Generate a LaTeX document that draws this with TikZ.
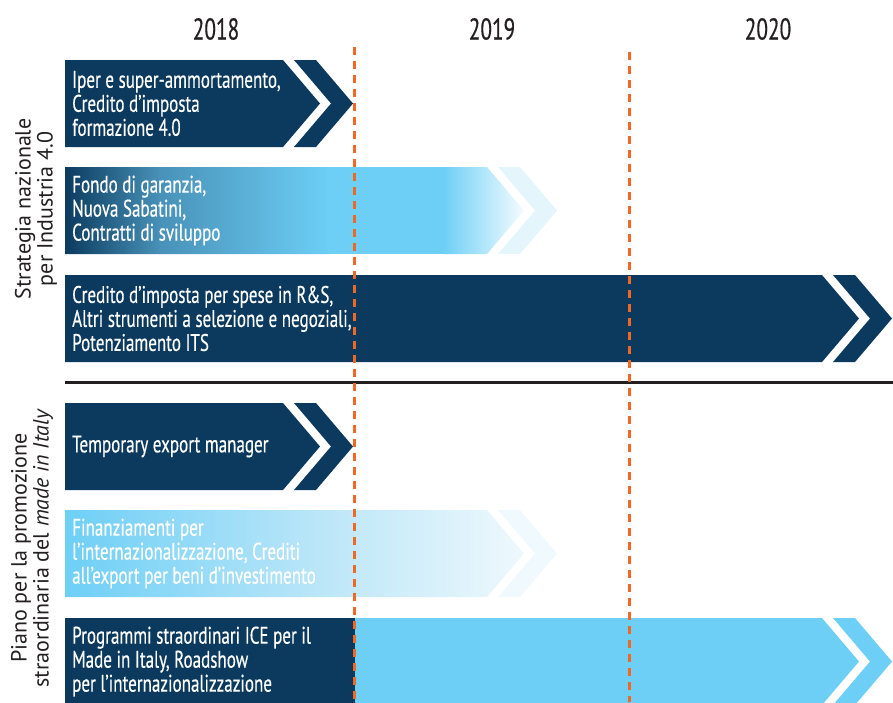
\documentclass[tikz,border=0pt]{standalone}
\usepackage{fontspec}
\setmainfont{PT Sans}
\newfontfamily\condfont[FakeStretch=0.71,FakeBold=0.4]{PT Sans}
\usepackage{tikz}
\usepackage{xcolor}
\usetikzlibrary{positioning}
\definecolor{itNavy}{RGB}{11,58,94}
\definecolor{itMid}{RGB}{72,145,184}
\definecolor{itSky}{RGB}{109,207,246}
\definecolor{itSoft}{RGB}{181,228,248}
\definecolor{itPale}{RGB}{228,245,252}
\definecolor{itPaler}{RGB}{240,249,253}
\definecolor{itOrange}{RGB}{240,104,36}
\definecolor{itInk}{RGB}{35,31,32}
% body and chevron of one bar, #1 = right end of the body
\newcommand{\barbody}[1]{(65,0) -- (#1,0) -- (#1+37,43.5) -- (#1,87) -- (65,87) -- cycle}
\newcommand{\barchev}[1]{(#1+11,0) -- (#1+33,0) -- (#1+70,43.5) -- (#1+33,87) -- (#1+11,87) -- (#1+48,43.5) -- cycle}

\begin{document}
\begin{tikzpicture}[x=1pt,y=-1pt,
  bartext/.style={anchor=west,align=left,text=white,inner xsep=7pt,
    font=\condfont\fontsize{24}{24}\selectfont},
  yeartext/.style={text=itInk,font=\condfont\fontsize{30}{30}\selectfont},
  sidetext/.style={rotate=90,align=center,text=itInk,
    font=\fontsize{22}{22}\selectfont},
  dashline/.style={draw=itOrange,line width=3pt,dash pattern=on 8pt off 6pt}]
  \useasboundingbox (0,0) rectangle (893,702);
  % years
  \node[yeartext] (y2018) at (216,29) {2018};
  \node[yeartext] (y2019) at (492,29) {2019};
  \node[yeartext] (y2020) at (768,29) {2020};
  % side labels
  \node[sidetext] (lStrat) at (36,209) {Strategia nazionale\\per Industria 4.0};
  \node[sidetext] (lPiano) at (32,548) {Piano per la promozione\\straordinaria del \textit{made in Italy}};
  % bar 1
  \begin{scope}[shift={(0,60)}]
    \fill[itNavy] \barbody{283};
    \fill[itNavy] \barchev{283};
    \node[bartext] (tIper) at (65,43.5) {Iper e super-ammortamento,\\Credito d’imposta\\formazione 4.0};
  \end{scope}
  % bar 2
  \begin{scope}[shift={(0,167)}]
    \fill[itPale] \barchev{487};
    \begin{scope}
      \clip \barbody{487};
      \shade[left color=itNavy,right color=itMid] (64,0) rectangle (160,87);
      \shade[left color=itMid,right color=itSky] (159,0) rectangle (330,87);
      \fill[itSky] (329,0) rectangle (444,87);
      \shade[left color=itSky,right color=white] (443,0) rectangle (530,87);
    \end{scope}
    \node[bartext] (tFondo) at (65,43.5) {Fondo di garanzia,\\Nuova Sabatini,\\Contratti di sviluppo};
  \end{scope}
  % bar 3
  \begin{scope}[shift={(0,275)}]
    \fill[itNavy] \barbody{822};
    \fill[itNavy] \barchev{822};
    \node[bartext] (tCredito) at (65,43.5) {Credito d’imposta per spese in R\&S,\\Altri strumenti a selezione e negoziali,\\Potenziamento ITS};
  \end{scope}
  % separator
  \coordinate (sepL) at (65,382.5);
  \coordinate (sepR) at (893,382.5);
  \draw[itInk,line width=3pt] (sepL) -- (sepR);
  % bar 4
  \begin{scope}[shift={(0,403)}]
    \fill[itNavy] \barbody{283};
    \fill[itNavy] \barchev{283};
    \node[bartext] (tTemp) at (65,43.5) {Temporary export manager};
  \end{scope}
  % bar 5
  \begin{scope}[shift={(0,510)}]
    \fill[itPaler] \barchev{487};
    \begin{scope}
      \clip \barbody{487};
      \shade[left color=itSky,right color=itSoft] (64,0) rectangle (300,87);
      \shade[left color=itSoft,right color=itPaler] (299,0) rectangle (530,87);
    \end{scope}
    \node[bartext] (tFinanz) at (65,43.5) {Finanziamenti per\\l’internazionalizzazione, Crediti\\all’export per beni d’investimento};
  \end{scope}
  % bar 6
  \begin{scope}[shift={(0,618)}]
    \fill[itSky] \barbody{822};
    \fill[itSky] \barchev{822};
    \fill[itNavy] (65,0) rectangle (355,87);
    \node[bartext] (tProgr) at (65,43.5) {Programmi straordinari ICE per il\\Made in Italy, Roadshow\\per l’internazionalizzazione};
  \end{scope}
  % year limits
  \coordinate (d1top) at (354,47);
  \coordinate (d1bot) at (354,702);
  \coordinate (d2top) at (629,52);
  \coordinate (d2bot) at (629,702);
  \draw[dashline] (d1top) -- (d1bot);
  \draw[dashline] (d2top) -- (d2bot);
\end{tikzpicture}
\end{document}
